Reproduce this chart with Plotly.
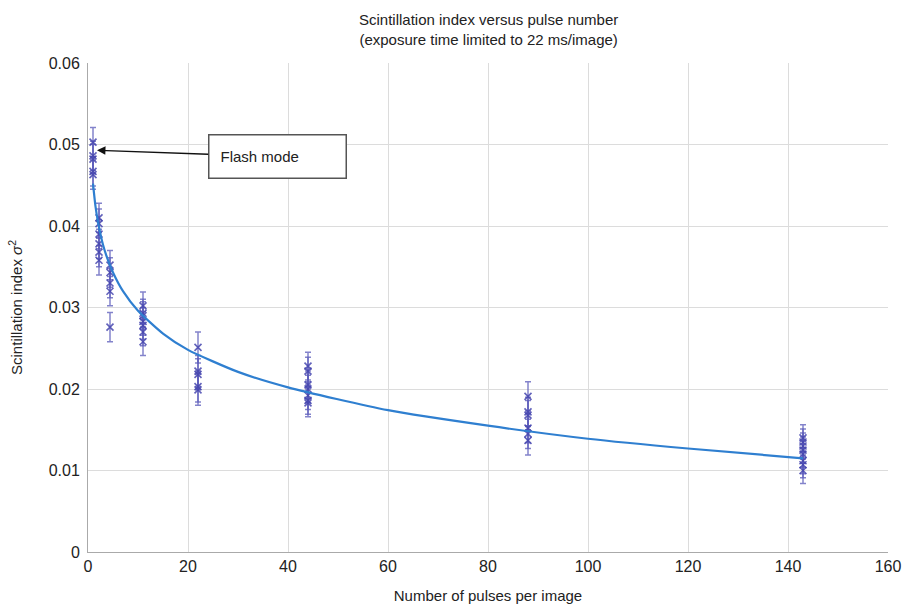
import plotly.graph_objects as go

# Measured points (pulses per image, scintillation index, error)
pulse_x = [1.0]*5 + [2.2]*6 + [4.4]*5 + [11]*7 + [22]*5 + [44]*7 + [88]*6 + [143]*8
sigma2 = [0.0503, 0.0486, 0.0482, 0.0467, 0.0463,
          0.0410, 0.0403, 0.0390, 0.0378, 0.0368, 0.0358,
          0.0352, 0.0343, 0.0330, 0.0320, 0.0276,
          0.0302, 0.0293, 0.0290, 0.0283, 0.0278, 0.0270, 0.0258,
          0.0251, 0.0222, 0.0218, 0.0203, 0.0199,
          0.0228, 0.0222, 0.0205, 0.0200, 0.0192, 0.0186, 0.0183,
          0.0191, 0.0172, 0.0168, 0.0152, 0.0145, 0.0137,
          0.0140, 0.0135, 0.0130, 0.0125, 0.0120, 0.0112, 0.0107, 0.0100]
sigma2_err = [0.0018]*5 + [0.0018]*6 + [0.0018]*5 + [0.0017]*7 + [0.0019]*5 + [0.0017]*7 + [0.0018]*6 + [0.0016]*8

# Fitted trend line
fit_x = [1, 1.5, 2, 3, 4, 5, 7, 10, 15, 20, 30, 40, 60, 80, 100, 120, 143]
fit_y = [0.0452, 0.0424, 0.0405, 0.0377, 0.0358, 0.0343, 0.0320, 0.0296, 0.0268,
         0.0248, 0.0221, 0.0202, 0.0174, 0.0155, 0.0139, 0.0127, 0.0115]

x_ticks = [0, 20, 40, 60, 80, 100, 120, 140, 160]
y_ticks = [0, 0.01, 0.02, 0.03, 0.04, 0.05, 0.06]
y_ticklabels = ["0", "0.01", "0.02", "0.03", "0.04", "0.05", "0.06"]

font_family = "Liberation Sans, Arial, sans-serif"

fig = go.Figure()
fig.add_trace(go.Scatter(
    x=pulse_x, y=sigma2, mode="markers",
    marker=dict(symbol="x-thin", size=7, line=dict(width=1.6, color="rgba(70,70,175,0.85)")),
    error_y=dict(type="data", array=sigma2_err, visible=True,
                 color="rgba(90,90,185,0.75)", thickness=1.5, width=3),
    showlegend=False, hoverinfo="x+y"))
fig.add_trace(go.Scatter(
    x=fit_x, y=fit_y, mode="lines",
    line=dict(color="#2f7fd0", width=2.2, shape="spline", smoothing=0.6),
    showlegend=False))

fig.add_annotation(
    x=1.8, y=0.0493, xref="x", yref="y",
    ax=37.8, ay=0.0485, axref="x", ayref="y",
    text="Flash mode", showarrow=True,
    arrowhead=2, arrowsize=1.3, arrowwidth=1.3, arrowcolor="#111",
    font=dict(family=font_family, size=15, color="#222"),
    bordercolor="#555", borderwidth=1.5, borderpad=11,
    bgcolor="white", width=114, height=20, align="left",
    standoff=0)

# Title as annotation above the plot area
fig.add_annotation(
    x=0.5, y=1.0675, xref="paper", yref="paper", xanchor="center", yanchor="middle",
    text="Scintillation index versus pulse number<br>(exposure time limited to 22 ms/image)",
    showarrow=False, font=dict(family=font_family, size=15, color="#222"))

fig.update_layout(
    width=902, height=609,
    paper_bgcolor="white", plot_bgcolor="white",
    margin=dict(l=88, r=14, t=63, b=57),
    font=dict(family=font_family, size=15, color="#222"),
    xaxis=dict(range=[0, 160], tickvals=x_ticks, showgrid=True, gridcolor="#dcdcdc",
               gridwidth=1, zeroline=False, showline=True, linecolor="#aaaaaa", linewidth=1,
               ticks="", tickfont=dict(size=16), automargin=False,
               title=dict(text="Number of pulses per image", font=dict(size=15), standoff=16)),
    yaxis=dict(range=[0, 0.06], tickvals=y_ticks, ticktext=y_ticklabels, showgrid=True,
               gridcolor="#dcdcdc", gridwidth=1, zeroline=False, showline=True,
               linecolor="#aaaaaa", linewidth=1, ticks="", tickfont=dict(size=16),
               ticklabelstandoff=4, automargin=False,
               title=dict(text="Scintillation index <i>σ</i><sup>2</sup>", font=dict(size=15), standoff=22)),
)

# remove the page's default body margin so the figure fills the window exactly
page_fix = ("document.body.style.margin='0';"
            "document.documentElement.style.overflow='hidden';")
fig.write_html("out.html", post_script=page_fix, config={"displayModeBar": False})
